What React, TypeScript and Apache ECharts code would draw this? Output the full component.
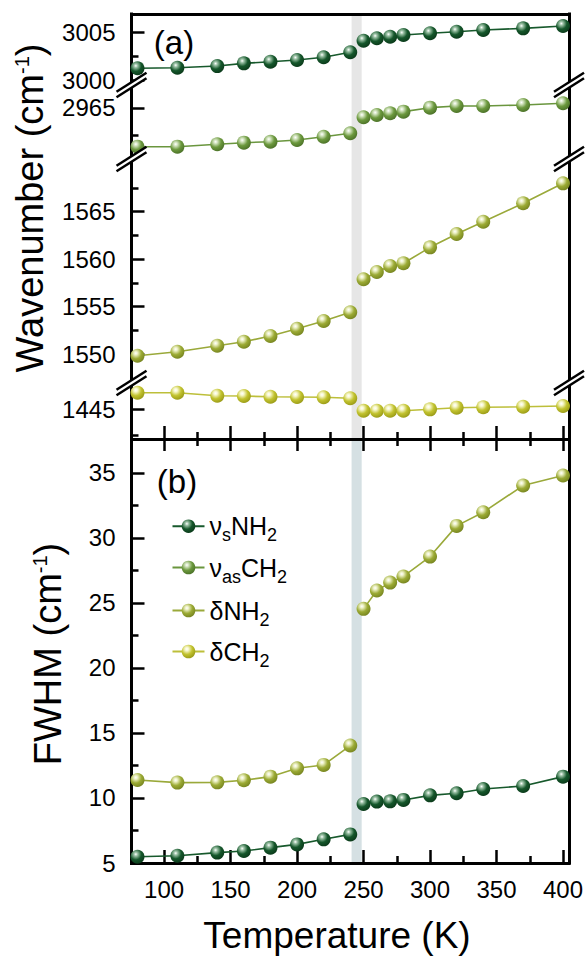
import React, { useEffect, useRef } from "react";
import * as echarts from "echarts";

// ---------------- data ----------------
const temperatures = [80, 110, 140, 160, 180, 200, 220, 240, 250, 260, 270, 280, 300, 320, 340, 370, 400];
const transitionIndex = 8; // first temperature above the transition

const nuSNH2 = [3001.27, 3001.33, 3001.5, 3001.78, 3001.95, 3002.13, 3002.41, 3002.93, 3004.13, 3004.38, 3004.54, 3004.72, 3004.9, 3005.06, 3005.24, 3005.41, 3005.65];
const nuAsCH2 = [2961.42, 2961.42, 2961.64, 2961.79, 2961.88, 2962.04, 2962.34, 2962.66, 2964.14, 2964.35, 2964.51, 2964.66, 2965.03, 2965.19, 2965.19, 2965.28, 2965.44];
const deltaNH2 = [1549.85, 1550.27, 1550.9, 1551.32, 1551.92, 1552.69, 1553.5, 1554.42, 1557.89, 1558.66, 1559.29, 1559.57, 1561.25, 1562.65, 1563.94, 1565.88, 1567.98];
const deltaCH2 = [1446.65, 1446.65, 1446.35, 1446.32, 1446.25, 1446.23, 1446.2, 1446.1, 1444.88, 1444.88, 1444.88, 1444.88, 1445.02, 1445.18, 1445.22, 1445.27, 1445.34];

const fwhmNuSNH2 = [5.48, 5.56, 5.8, 5.92, 6.18, 6.43, 6.82, 7.2, 9.54, 9.72, 9.74, 9.85, 10.2, 10.36, 10.69, 10.92, 11.64];
const fwhmDeltaNH2 = [11.38, 11.18, 11.2, 11.36, 11.64, 12.28, 12.54, 14.03, 24.54, 25.95, 26.56, 27.03, 28.56, 30.92, 31.97, 34.02, 34.79];

const seriesNames = ["νsNH2", "νasCH2", "δNH2", "δCH2"];
const legendLabels = [
  "{m|ν}{s|s}{m|NH}{s|2}",
  "{m|ν}{s|as}{m|CH}{s|2}",
  "{m|δNH}{s|2}",
  "{m|δCH}{s|2}",
];

const xRange = [75.5, 404.5];
const xMajorTicks = [100, 150, 200, 250, 300, 350, 400];
const xMinorTicks = [125, 175, 225, 275, 325, 375];
const transitionBand = [241, 248.6];

const segRanges = [
  [2999.64, 3006.9],
  [2960.28, 2967.22],
  [1546.98, 1570.54],
  [1442.11, 1447.6],
];
const segMajorTicks = [[3000, 3005], [2965], [1550, 1555, 1560, 1565], [1445]];
const segMinorTicks = [[3002.5], [2962.5], [1552.5, 1557.5, 1562.5, 1567.5], [1442.5]];

const fwhmRange = [5, 37.6];
const fwhmMajorTicks = [5, 10, 15, 20, 25, 30, 35];
const fwhmMinorTicks = [7.5, 12.5, 17.5, 22.5, 27.5, 32.5];

// ---------------- layout / style ----------------
const FONT = "'Liberation Sans', Arial, Helvetica, sans-serif";
const GRID_LEFT = 131.5;
const GRID_RIGHT = 16;
const segEdges = [14, 84, 159, 383, 439];
const PANEL_B_BOTTOM = 863;
const CHART_W = 585;
const TICK_FONT = 24;

const palette = [
  { line: "#17592c", light: "#9cc2a6", base: "#15572b", dark: "#0a3819" },
  { line: "#6a963e", light: "#d3e4c0", base: "#6c993e", dark: "#4a7027" },
  { line: "#9aa93a", light: "#ecf0c4", base: "#9cab35", dark: "#75831f" },
  { line: "#bdbf3a", light: "#f7f7cc", base: "#c2c32f", dark: "#989916" },
];

function ball(i: number) {
  const c = palette[i];
  return new echarts.graphic.RadialGradient(0.38, 0.32, 0.72, [
    { offset: 0, color: "#ffffff" },
    { offset: 0.18, color: c.light },
    { offset: 0.55, color: c.base },
    { offset: 1, color: c.dark },
  ]);
}

const BLACK = "#000";
const lineStyle = { color: BLACK, width: 3, cap: "square" };
const tickStyle = { color: BLACK, width: 2.5 };

function makeSeries(
  colorIdx: number,
  values: number[],
  gridIdx: number,
  part: "before" | "after",
  bandColor?: string
) {
  const start = part === "before" ? 0 : transitionIndex;
  const end = part === "before" ? transitionIndex : temperatures.length;
  const data = temperatures.slice(start, end).map((t, k) => [t, values[start + k]]);
  const s: any = {
    type: "line",
    name: seriesNames[colorIdx],
    xAxisIndex: gridIdx,
    yAxisIndex: gridIdx,
    data,
    symbol: "circle",
    symbolSize: 14,
    itemStyle: { color: ball(colorIdx) },
    lineStyle: { color: palette[colorIdx].line, width: 1.6 },
    emphasis: { disabled: true },
    silent: true,
    z: 3,
  };
  if (bandColor) {
    s.markArea = {
      silent: true,
      z: 1,
      itemStyle: { color: bandColor },
      data: [[{ xAxis: transitionBand[0] }, { xAxis: transitionBand[1] }]],
    };
  }
  return s;
}

function breakMark(cx: number, cy: number) {
  const dx = 15;
  const dy = 9.5;
  const gap = 2.8;
  return {
    type: "group",
    z: 100,
    children: [
      {
        type: "polygon",
        z: 100,
        shape: {
          points: [
            [cx - dx, cy + dy + gap],
            [cx + dx, cy - dy + gap],
            [cx + dx, cy - dy - gap],
            [cx - dx, cy + dy - gap],
          ],
        },
        style: { fill: "#fff" },
      },
      {
        type: "line",
        z: 101,
        shape: { x1: cx - dx, y1: cy + dy + gap, x2: cx + dx, y2: cy - dy + gap },
        style: { stroke: BLACK, lineWidth: 2.5 },
      },
      {
        type: "line",
        z: 101,
        shape: { x1: cx - dx, y1: cy + dy - gap, x2: cx + dx, y2: cy - dy - gap },
        style: { stroke: BLACK, lineWidth: 2.5 },
      },
    ],
  };
}

function buildOption() {
  const grids: any[] = [];
  for (let i = 0; i < 4; i++) {
    grids.push({
      left: GRID_LEFT,
      right: GRID_RIGHT,
      top: segEdges[i],
      height: segEdges[i + 1] - segEdges[i],
      outerBoundsMode: "none",
    });
  }
  grids.push({
    left: GRID_LEFT,
    right: GRID_RIGHT,
    top: segEdges[4],
    height: PANEL_B_BOTTOM - segEdges[4],
    outerBoundsMode: "none",
  });

  const baseX = (gridIndex: number) => ({
    type: "value",
    gridIndex,
    min: xRange[0],
    max: xRange[1],
    splitLine: { show: false },
    z: 2,
  });

  const xAxes: any[] = [];
  for (let i = 0; i < 3; i++) xAxes.push({ ...baseX(i), show: false });
  xAxes.push({
    ...baseX(3),
    position: "bottom",
    axisLine: { show: true, onZero: false, lineStyle },
    axisTick: { show: true, inside: true, length: 13, lineStyle: tickStyle, customValues: xMajorTicks },
    axisLabel: { show: false },
  });
  xAxes.push({
    ...baseX(4),
    position: "bottom",
    axisLine: { show: true, onZero: false, lineStyle },
    axisTick: { show: true, inside: true, length: 13, lineStyle: tickStyle, customValues: xMajorTicks },
    axisLabel: {
      show: true,
      customValues: xMajorTicks,
      margin: 14,
      fontSize: TICK_FONT,
      fontFamily: FONT,
      color: BLACK,
      formatter: (v: number) => String(v),
    },
  });
  xAxes.push({
    ...baseX(3),
    position: "bottom",
    axisLine: { show: false },
    axisTick: { show: true, inside: true, length: 7, lineStyle: tickStyle, customValues: xMinorTicks },
    axisLabel: { show: false },
  });
  xAxes.push({
    ...baseX(4),
    position: "bottom",
    axisLine: { show: false },
    axisTick: { show: true, inside: true, length: 7, lineStyle: tickStyle, customValues: xMinorTicks },
    axisLabel: { show: false },
  });
  xAxes.push({
    ...baseX(4),
    position: "top",
    axisLine: { show: true, onZero: false, lineStyle },
    axisTick: { show: true, inside: true, length: 12, lineStyle: tickStyle, customValues: xMajorTicks },
    axisLabel: { show: false },
  });
  xAxes.push({
    ...baseX(4),
    position: "top",
    axisLine: { show: false },
    axisTick: { show: true, inside: true, length: 7, lineStyle: tickStyle, customValues: xMinorTicks },
    axisLabel: { show: false },
  });
  xAxes.push({
    ...baseX(0),
    position: "top",
    axisLine: { show: true, onZero: false, lineStyle },
    axisTick: { show: false },
    axisLabel: { show: false },
  });

  const ranges = [...segRanges, fwhmRange];
  const majors = [...segMajorTicks, fwhmMajorTicks];
  const minors = [...segMinorTicks, fwhmMinorTicks];

  const yAxes: any[] = [];
  for (let i = 0; i < 5; i++) {
    yAxes.push({
      type: "value",
      gridIndex: i,
      position: "left",
      min: ranges[i][0],
      max: ranges[i][1],
      splitLine: { show: false },
      z: 2,
      axisLine: { show: true, onZero: false, lineStyle },
      axisTick: { show: true, inside: true, length: 13, lineStyle: tickStyle, customValues: majors[i] },
      axisLabel: {
        show: true,
        customValues: majors[i],
        margin: 16,
        fontSize: TICK_FONT,
        fontFamily: FONT,
        color: BLACK,
        formatter: (v: number) => String(v),
      },
    });
  }
  for (let i = 0; i < 5; i++) {
    yAxes.push({
      type: "value",
      gridIndex: i,
      position: "left",
      min: ranges[i][0],
      max: ranges[i][1],
      splitLine: { show: false },
      z: 2,
      axisLine: { show: false },
      axisTick: { show: true, inside: true, length: 7, lineStyle: tickStyle, customValues: minors[i] },
      axisLabel: { show: false },
    });
  }
  for (let i = 0; i < 5; i++) {
    yAxes.push({
      type: "value",
      gridIndex: i,
      position: "right",
      min: ranges[i][0],
      max: ranges[i][1],
      splitLine: { show: false },
      z: 2,
      axisLine: { show: true, onZero: false, lineStyle },
      axisTick: { show: false },
      axisLabel: { show: false },
    });
  }

  const BAND_A = "#e6e6e6";
  const BAND_B = "#d5e0e3";
  const series: any[] = [
    makeSeries(0, nuSNH2, 0, "before", BAND_A),
    makeSeries(0, nuSNH2, 0, "after"),
    makeSeries(1, nuAsCH2, 1, "before", BAND_A),
    makeSeries(1, nuAsCH2, 1, "after"),
    makeSeries(2, deltaNH2, 2, "before", BAND_A),
    makeSeries(2, deltaNH2, 2, "after"),
    makeSeries(3, deltaCH2, 3, "before", BAND_A),
    makeSeries(3, deltaCH2, 3, "after"),
    makeSeries(2, fwhmDeltaNH2, 4, "before", BAND_B),
    makeSeries(2, fwhmDeltaNH2, 4, "after"),
    makeSeries(0, fwhmNuSNH2, 4, "before"),
    makeSeries(0, fwhmNuSNH2, 4, "after"),
  ];

  const legendCenters = [531.7, 573, 616, 657];
  const LEG_LH = 36;
  const legends = seriesNames.map((name, i) => ({
    data: [name],
    left: 171.5,
    top: legendCenters[i] - LEG_LH / 2,
    padding: 0,
    selectedMode: false,
    itemWidth: 32,
    itemHeight: 17,
    itemGap: 0,
    formatter: () => legendLabels[i],
    textStyle: {
      color: BLACK,
      fontFamily: FONT,
      fontSize: 25,
      rich: {
        m: { fontSize: 25, fontFamily: FONT, color: BLACK, lineHeight: LEG_LH },
        s: { fontSize: 18, fontFamily: FONT, color: BLACK, verticalAlign: "bottom" },
      },
    },
  }));

  const titleRich = {
    m: { fontSize: 38, fontFamily: FONT, fill: BLACK, lineHeight: 44 },
    p: { fontSize: 20, fontFamily: FONT, fill: BLACK, verticalAlign: "top", padding: [4, 0, 0, 0] },
  };

  const graphic: any[] = [];
  for (const y of [85, 159, 383]) {
    graphic.push(breakMark(GRID_LEFT, y));
    graphic.push(breakMark(CHART_W - GRID_RIGHT, y));
  }
  graphic.push(
    {
      type: "text",
      x: 30,
      y: 208,
      rotation: Math.PI / 2,
      z: 100,
      style: {
        text: "{m|Wavenumber (cm}{p|-1}{m|)}",
        rich: titleRich,
        align: "center",
        verticalAlign: "middle",
        fill: BLACK,
      },
    },
    {
      type: "text",
      x: 48,
      y: 654,
      rotation: Math.PI / 2,
      z: 100,
      style: {
        text: "{m|FWHM (cm}{p|-1}{m|)}",
        rich: titleRich,
        align: "center",
        verticalAlign: "middle",
        fill: BLACK,
      },
    },
    {
      type: "text",
      x: 337,
      y: 935,
      z: 100,
      style: {
        text: "Temperature (K)",
        fontSize: 37,
        fontFamily: FONT,
        fill: BLACK,
        align: "center",
        verticalAlign: "middle",
      },
    },
    {
      type: "text",
      x: 174,
      y: 42,
      z: 100,
      style: { text: "(a)", fontSize: 33, fontFamily: FONT, fill: BLACK, align: "center", verticalAlign: "middle" },
    },
    {
      type: "text",
      x: 177,
      y: 481,
      z: 100,
      style: { text: "(b)", fontSize: 33, fontFamily: FONT, fill: BLACK, align: "center", verticalAlign: "middle" },
    }
  );

  return {
    animation: false,
    backgroundColor: "#ffffff",
    grid: grids,
    xAxis: xAxes,
    yAxis: yAxes,
    legend: legends,
    series,
    graphic,
  };
}

export default function App() {
  const ref = useRef<HTMLDivElement>(null);
  useEffect(() => {
    document.body.style.margin = "0";
    const chart = echarts.init(ref.current!, null, { renderer: "svg" });
    chart.setOption(buildOption() as any);
    return () => chart.dispose();
  }, []);
  return <div ref={ref} style={{ width: 585, height: 956, position: "absolute", left: 0, top: 0 }} />;
}
